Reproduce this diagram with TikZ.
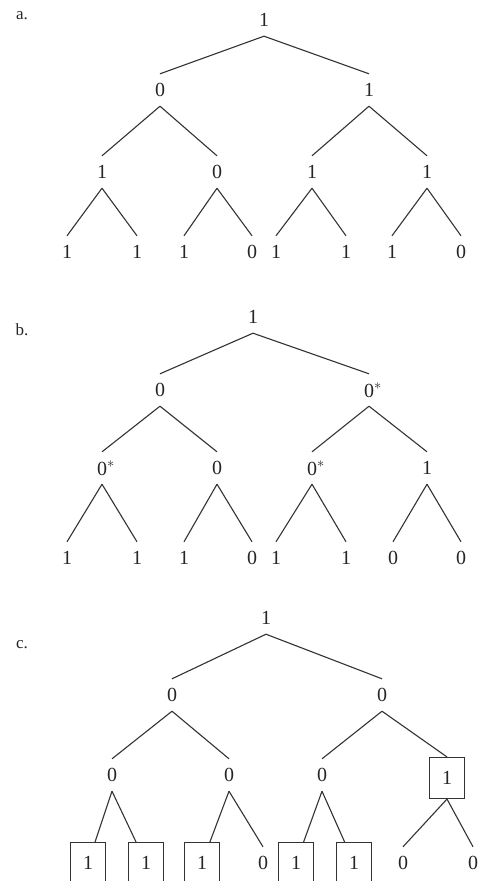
\documentclass[tikz,border=0pt]{standalone}
\usepackage{fontspec}
\setmainfont{Liberation Serif}

\newcommand{\starred}[1]{#1\rlap{$^{*}$}}

\begin{document}
\begin{tikzpicture}[x=1pt, y=-1pt,
    bit/.style={inner sep=0pt, minimum height=32pt, text=black!85, font=\fontsize{20}{20}\selectfont},
    boxbit/.style={bit, draw=black!80, line width=1.1pt, minimum width=35pt, minimum height=41pt},
    edge/.style={draw=black!80, line width=1.1pt},
    tag/.style={text=black!85, font=\fontsize{17}{17}\selectfont}
]
    \fill[white] (0,0) rectangle (479,881);
    \useasboundingbox (0,0) rectangle (479,881);

    % tree a
    \node (atag) [tag] at (22,16) {a.};
    \node (a)    [bit] at (264,20) {1};
    \node (a0)   [bit] at (160,90) {0};
    \node (a1)   [bit] at (369,90) {1};
    \node (a00)  [bit] at (102,172) {1};
    \node (a01)  [bit] at (217,172) {0};
    \node (a10)  [bit] at (312,172) {1};
    \node (a11)  [bit] at (427,172) {1};
    \node (a000) [bit] at (67,252) {1};
    \node (a001) [bit] at (137,252) {1};
    \node (a010) [bit] at (184,252) {1};
    \node (a011) [bit] at (252,252) {0};
    \node (a100) [bit] at (276,252) {1};
    \node (a101) [bit] at (346,252) {1};
    \node (a110) [bit] at (392,252) {1};
    \node (a111) [bit] at (461,252) {0};

    % tree b
    \node (btag) [tag] at (22,330) {b.};
    \node (b)    [bit] at (253,317) {1};
    \node (b0)   [bit] at (160,390) {0};
    \node (b1)   [bit] at (369,390) {\starred{0}};
    \node (b00)  [bit] at (102,468) {\starred{0}};
    \node (b01)  [bit] at (217,468) {0};
    \node (b10)  [bit] at (312,468) {\starred{0}};
    \node (b11)  [bit] at (427,468) {1};
    \node (b000) [bit] at (67,558) {1};
    \node (b001) [bit] at (137,558) {1};
    \node (b010) [bit] at (184,558) {1};
    \node (b011) [bit] at (252,558) {0};
    \node (b100) [bit] at (276,558) {1};
    \node (b101) [bit] at (346,558) {1};
    \node (b110) [bit] at (393,558) {0};
    \node (b111) [bit] at (461,558) {0};

    % tree c
    \node (ctag) [tag] at (22,645) {c.};
    \node (c)    [bit] at (266,618) {1};
    \node (c0)   [bit] at (172,695) {0};
    \node (c1)   [bit] at (382,695) {0};
    \node (c00)  [bit] at (112,775) {0};
    \node (c01)  [bit] at (229,775) {0};
    \node (c10)  [bit] at (322,775) {0};
    \node (c11)  [boxbit] at (447,778) {1};
    \node (c000) [boxbit] at (88,863) {1};
    \node (c001) [boxbit] at (146,863) {1};
    \node (c010) [boxbit] at (202,863) {1};
    \node (c011) [bit] at (263,863) {0};
    \node (c100) [boxbit] at (296,863) {1};
    \node (c101) [boxbit] at (354,863) {1};
    \node (c110) [bit] at (403,863) {0};
    \node (c111) [bit] at (473,863) {0};

    % branches
    \foreach \t in {a,b}
        \foreach \p in {,0,1,00,01,10,11}
            \foreach \d in {0,1}
                \draw [edge] (\t\p.south) -- (\t\p\d.north);

    \foreach \p/\k in {c/c0, c/c1, c0/c00, c0/c01, c1/c10, c1/c11, c01/c011, c11/c110, c11/c111}
        \draw [edge] (\p.south) -- (\k.north);
    \foreach \p/\k in {c00/c000, c00/c001, c01/c010, c10/c100, c10/c101}
        \draw [edge] (\p.south) -- (\k);
\end{tikzpicture}
\end{document}
